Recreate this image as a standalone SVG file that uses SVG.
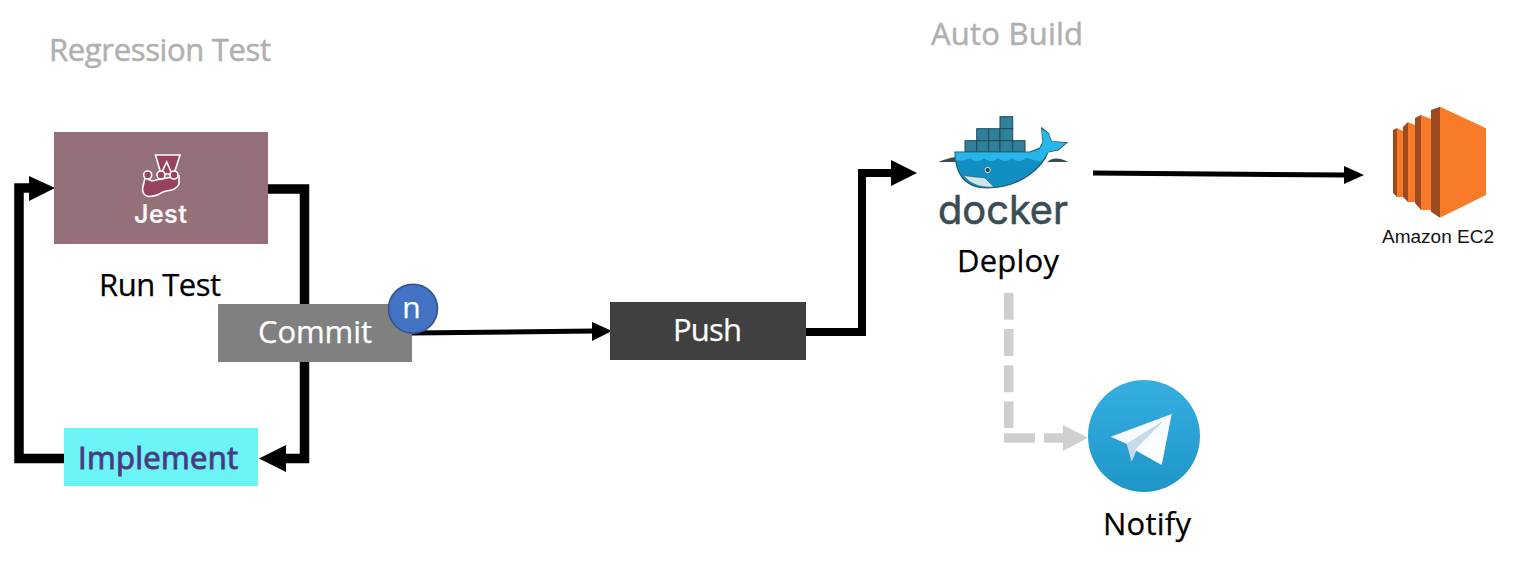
<svg xmlns="http://www.w3.org/2000/svg" width="1520" height="568" viewBox="0 0 1520 568">
<defs>
<style>
.t{font-family:"Open Sans","Noto Sans",sans-serif;font-size:31px;text-anchor:middle}
.title{fill:#b0b0b0;stroke:#b0b0b0;stroke-width:.5}
.lbl{fill:#000;stroke:#000;stroke-width:.25}
.box{fill:#fff;stroke:#fff;stroke-width:.25}
.line{fill:none;stroke:#000}
.crate{fill:#2f8199;stroke:#1f4a5a;stroke-width:1}
.jestline{fill:#99425b;stroke:#fff;stroke-width:1.6}
.ecd{fill:#9d4a1f}
.eco{fill:#f77a28}
</style>
<linearGradient id="tg" x1="0" y1="0" x2="0" y2="1"><stop offset="0" stop-color="#37aee2"/><stop offset="1" stop-color="#1e96c8"/></linearGradient>
<linearGradient id="pl" x1="0" y1="0" x2="0.6" y2="1"><stop offset="0" stop-color="#eff7fc"/><stop offset="1" stop-color="#fff"/></linearGradient>
</defs>
<rect width="1520" height="568" fill="#fff"/>
<g id="connectors">
<path class="line" stroke-width="9.500" d="M268 189H304.500V458.500H284"/>
<polygon points="259,458.500 286,445 286,472" fill="#000"/>
<path class="line" stroke-width="9.500" d="M64 458.500H19V188H32"/>
<polygon points="55,188 29,176 29,201" fill="#000"/>
<path class="line" stroke-width="5" d="M412 333L594 331"/>
<polygon points="612,331 592,322 592,341" fill="#000"/>
<path class="line" stroke-width="8" d="M806 332H862V173H895"/>
<polygon points="917,173 891,160 891,186" fill="#000"/>
<path class="line" stroke-width="5" d="M1093 173L1346 175"/>
<polygon points="1364,175 1344,166 1344,184" fill="#000"/>
<path fill="none" stroke="#d0cfcf" stroke-width="9.500" stroke-dasharray="27 9.300" d="M1008.700 292.700V428"/>
<path fill="none" stroke="#d0cfcf" stroke-width="9.500" d="M1004 438H1035M1044 438H1066"/>
<polygon points="1088,437.700 1063,425 1063,451" fill="#d0cfcf"/>
</g>
<g id="regression-title"><text class="t title" x="160" y="61" textLength="222">Regression Test</text></g>
<g id="autobuild-title"><text class="t title" x="1007" y="45" textLength="152">Auto Build</text></g>
<g id="jest">
<rect x="54" y="132" width="214" height="112" fill="#967078"/>
<path class="jestline" d="M155.500 155H180L174 174H161Z"/>
<path d="M161 174L166.700 162L172 174" fill="none" stroke="#fff" stroke-width="1.600"/>
<path class="jestline" d="M145 178C144 184 141.500 188 143 192C145 198 153 198 163 192C169 190 176 191 179 184L179 176L161 179L152 181Z"/>
<circle class="jestline" cx="147.700" cy="175" r="4"/>
<circle class="jestline" cx="161" cy="175" r="4"/>
<circle class="jestline" cx="174" cy="175" r="4"/>
<text x="160.500" y="223" text-anchor="middle" font-family="Inter, Liberation Sans, sans-serif" font-size="25" font-weight="600" fill="#fff" textLength="53" opacity=".95">Jest</text>
</g>
<g id="run-test"><text class="t lbl" x="160" y="296" textLength="122">Run Test</text></g>
<g id="commit">
<rect x="218" y="304" width="194" height="58" fill="#808080"/>
<text class="t box" x="315" y="343" textLength="114">Commit</text>
<circle cx="413" cy="308.700" r="24.500" fill="#4472c4" stroke="#2f528f" stroke-width="1.500"/>
<text class="t box" x="411.500" y="318" style="font-size:30px" textLength="15">n</text>
</g>
<g id="implement">
<rect x="64" y="428" width="194" height="58" fill="#6cf3f5"/>
<text class="t" x="158" y="469" fill="#5b2a92" stroke="#3f4b7a" stroke-width="1" textLength="160">Implement</text>
</g>
<g id="push">
<rect x="610" y="302" width="196" height="58" fill="#404040"/>
<text class="t box" x="707.500" y="341" textLength="69">Push</text>
</g>
<g id="docker">
<rect class="crate" x="1000" y="116.700" width="12.700" height="12"/>
<rect class="crate" x="976.700" y="128.700" width="12" height="12"/>
<rect class="crate" x="988.700" y="128.700" width="11.300" height="12"/>
<rect class="crate" x="1000" y="128.700" width="12.700" height="12"/>
<rect class="crate" x="965" y="140.700" width="11.700" height="11.500"/>
<rect class="crate" x="976.700" y="140.700" width="12" height="11.500"/>
<rect class="crate" x="988.700" y="140.700" width="11.300" height="11.500"/>
<rect class="crate" x="1000" y="140.700" width="12.700" height="11.500"/>
<rect class="crate" x="1012.700" y="140.700" width="12.300" height="11.500"/>
<path d="M938 162C944 160 948 158 955 157V162ZM1050 160C1057 157 1062 159 1068 162L1047 162Z" fill="#3a4d54"/>
<path d="M955 152H1030L1040 148L1043 142L1041.700 128L1048 133L1051.700 141.700L1066.700 142.700L1058 150L1048 152C1042 168 1020 188 987 188C962 188 955 170 955 152Z" fill="#118fc3" stroke="#22586b" stroke-width="1.200"/>
<path d="M955.600 152.600H1030L1040 149L1043 142L1041.700 129L1048 133L1051.700 141.700L1066 143L1058 149.500L1048 152C1046 155 1044 158 1042 161C1036 162 1030 158 1026 158C1022 162 1016 162 1012 158C1008 162 1002 162 998 158C994 162 988 162 984 158C980 162 974 162 970 158C965 161 960 161 955.600 160Z" fill="#27b5ea"/>
<path d="M963 175C970 177 980 177 985 178C988 181 991 184 994 187C980 188 970 184 963 175Z" fill="#cfe5e8" stroke="#22586b" stroke-width=".6"/>
<circle cx="987.700" cy="170" r="2.600" fill="#263f4a" stroke="#fff" stroke-width=".8"/>
<text x="1003" y="224" text-anchor="middle" font-family="Inter, Liberation Sans, sans-serif" font-size="40" font-weight="400" fill="#3a4d54" stroke="#3a4d54" stroke-width=".6" textLength="130" lengthAdjust="spacingAndGlyphs">docker</text>
<text class="t lbl" x="1008" y="272" textLength="102">Deploy</text>
</g>
<g id="ec2">
<path class="ecd" d="M1393 130L1397 128V197L1393 193Z"/>
<path class="eco" d="M1397 128L1403 131V197H1397Z"/>
<path class="ecd" d="M1403 127L1408 122V202L1403 197Z"/>
<path class="eco" d="M1408 122L1415 125V202H1408Z"/>
<path class="ecd" d="M1415 118L1421 115V210L1415 203Z"/>
<path class="eco" d="M1421 115L1431 119V210H1421Z"/>
<path class="ecd" d="M1431 110L1440 106.700V217.700L1431 211.700Z"/>
<path class="eco" d="M1440 106.700L1486 128.300V195L1440 217.700Z"/>
<text x="1438" y="243" text-anchor="middle" font-family="Liberation Sans, sans-serif" font-size="17.500" fill="#111" textLength="112" lengthAdjust="spacingAndGlyphs">Amazon EC2</text>
</g>
<g id="telegram">
<circle cx="1144" cy="436" r="56" fill="url(#tg)"/>
<path d="M1126.700 444L1131.700 461.700L1137 449L1162 422Z" fill="#c8daea"/>
<path d="M1110.700 436.700L1171.700 414L1161.700 465L1135 450L1162 422L1126.700 444Z" fill="url(#pl)"/>
<text class="t lbl" x="1147" y="535" textLength="88">Notify</text>
</g>
</svg>
